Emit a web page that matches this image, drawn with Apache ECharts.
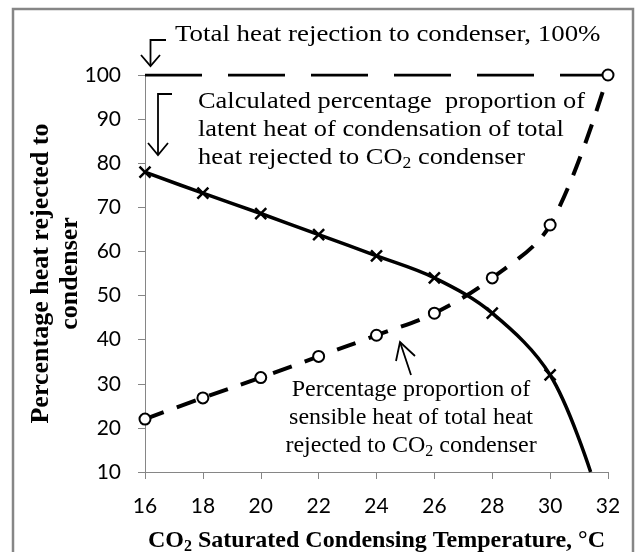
<!DOCTYPE html>
<html>
<head>
<meta charset="utf-8">
<script src="https://cdn.jsdelivr.net/npm/echarts@6/dist/echarts.min.js"></script>
<style>
  html, body { margin: 0; padding: 0; background: #fff; }
  #chart { width: 636px; height: 552px; }
</style>
</head>
<body>
<div id="chart"></div>
<script>
// CO2 saturated condensing temperature, °C
const temps = [16, 18, 20, 22, 24, 26, 28, 30];
// latent heat of condensation, % of total heat rejected
const latentPct = [78, 73.2, 68.6, 63.8, 59, 54, 46, 32];
// where the latent curve leaves the plot (no marker there)
const latentEnd = [31.4, 10];
// sensible heat, % of total heat rejected
const sensibleTemps = [16, 18, 20, 22, 24, 26, 28, 30, 32];
const sensiblePct = [22, 26.8, 31.4, 36.2, 41, 46, 54, 66, 100];
// total heat rejection to condenser
const totalTemps = [16, 32];
const totalPct = [100, 100];
// axis ranges
const xRange = [16, 32, 2];
const yRange = [10, 100, 10];

const serif = '"Liberation Serif", "Times New Roman", serif';
const sans = 'Lato, Calibri, sans-serif';
const gray = '#868686';

const subStyle = (size) => ({ fontFamily: serif, fontSize: size, lineHeight: 14, verticalAlign: 'bottom', color: '#000' });

const latentData = temps.map((t, i) => [t, latentPct[i]]);
latentData.push({ value: latentEnd, symbol: 'none' });
const sensibleData = sensibleTemps.map((t, i) => [t, sensiblePct[i]]);
const totalData = totalTemps.map((t, i) => [t, totalPct[i]]);

const chart = echarts.init(document.getElementById('chart'));
chart.setOption({
  animation: false,
  grid: { left: 145, right: 28, top: 75, bottom: 80, containLabel: false, outerBoundsMode: 'none' },
  xAxis: {
    type: 'value',
    min: xRange[0], max: xRange[1], interval: xRange[2],
    name: 'CO{s|2} Saturated Condensing Temperature, °C',
    nameLocation: 'middle',
    nameGap: 55,
    nameMoveOverlap: false,
    nameTextStyle: {
      fontFamily: serif, fontWeight: 'bold', fontSize: 24, color: '#000', lineHeight: 28,
      rich: { s: Object.assign(subStyle(16), { fontWeight: 'bold' }) }
    },
    splitLine: { show: false },
    axisLine: { show: true, lineStyle: { color: gray, width: 1 } },
    axisTick: { show: true, length: 7, lineStyle: { color: gray } },
    axisLabel: { fontFamily: sans, fontSize: 21, color: '#000', margin: 24 }
  },
  yAxis: {
    type: 'value',
    min: yRange[0], max: yRange[1], interval: yRange[2],
    name: 'Percentage heat rejected to\ncondenser',
    nameLocation: 'middle',
    nameRotate: 90,
    nameGap: 60,
    nameMoveOverlap: false,
    nameTextStyle: { fontFamily: serif, fontWeight: 'bold', fontSize: 26, color: '#000', lineHeight: 29 },
    splitLine: { show: false },
    axisLine: { show: true, lineStyle: { color: gray, width: 1 } },
    axisTick: { show: true, length: 7, lineStyle: { color: gray } },
    axisLabel: { fontFamily: sans, fontSize: 21, color: '#000', margin: 24 }
  },
  series: [
    {
      name: 'Total',
      type: 'line',
      data: totalData,
      symbol: 'none',
      lineStyle: { color: '#000', width: 3, type: [57, 26] },
      z: 2
    },
    {
      name: 'Latent',
      type: 'line',
      data: latentData,
      smooth: 0.35,
      symbol: 'path://M0,0L10,10M10,0L0,10',
      symbolSize: 11,
      itemStyle: { color: '#000', borderColor: '#000', borderWidth: 2.5 },
      lineStyle: { color: '#000', width: 3.5 },
      z: 3
    },
    {
      name: 'Sensible',
      type: 'line',
      data: sensibleData,
      smooth: 0.35,
      symbol: 'emptyCircle',
      symbolSize: 11,
      itemStyle: { color: '#000', borderColor: '#000', borderWidth: 2.5 },
      lineStyle: { color: '#000', width: 4, type: [20, 14] },
      z: 4
    }
  ],
  graphic: [
    {
      type: 'rect', silent: true, z: 0,
      shape: { x: 13, y: 9, width: 620, height: 560 },
      style: { fill: 'none', stroke: gray, lineWidth: 2.5 }
    },
    // total heat label + bent arrow
    {
      type: 'text', x: 175, y: 35, scaleX: 1.12,
      style: {
        text: 'Total heat rejection to condenser, 100%',
        fontFamily: serif, fontSize: 24, fill: '#000',
        textAlign: 'left', textVerticalAlign: 'middle', verticalAlign: 'middle'
      }
    },
    { type: 'polyline', shape: { points: [[166, 40], [150.5, 40], [150.5, 65]] }, style: { stroke: '#000', lineWidth: 1.8, fill: 'none' } },
    { type: 'polyline', shape: { points: [[141, 55], [150.5, 66], [160, 55]] }, style: { stroke: '#000', lineWidth: 1.8, fill: 'none' } },
    // latent label + bent arrow
    {
      type: 'text', x: 198, y: 88, scaleX: 1.1,
      style: {
        text: 'Calculated percentage  proportion of\nlatent heat of condensation of total\nheat rejected to CO{s|2} condenser',
        fontFamily: serif, fontSize: 24, fill: '#000', lineHeight: 28,
        textAlign: 'left', textVerticalAlign: 'top', verticalAlign: 'top',
        rich: { s: subStyle(16) }
      }
    },
    { type: 'polyline', shape: { points: [[172, 94], [158, 94], [158, 155]] }, style: { stroke: '#000', lineWidth: 1.8, fill: 'none' } },
    { type: 'polyline', shape: { points: [[148, 143], [158, 155], [168, 143]] }, style: { stroke: '#000', lineWidth: 1.8, fill: 'none' } },
    // sensible label + arrow
    {
      type: 'text', x: 411, y: 376,
      style: {
        text: 'Percentage proportion of\nsensible heat of total heat\nrejected to CO{s|2} condenser',
        fontFamily: serif, fontSize: 24, fill: '#000', lineHeight: 28,
        textAlign: 'center', textVerticalAlign: 'top', verticalAlign: 'top',
        rich: { s: subStyle(16) }
      }
    },
    { type: 'polyline', shape: { points: [[411, 375], [400, 342]] }, style: { stroke: '#000', lineWidth: 1.8, fill: 'none' } },
    { type: 'polyline', shape: { points: [[396, 361], [400, 342], [415, 356]] }, style: { stroke: '#000', lineWidth: 1.8, fill: 'none' } }
  ]
});
</script>
</body>
</html>
